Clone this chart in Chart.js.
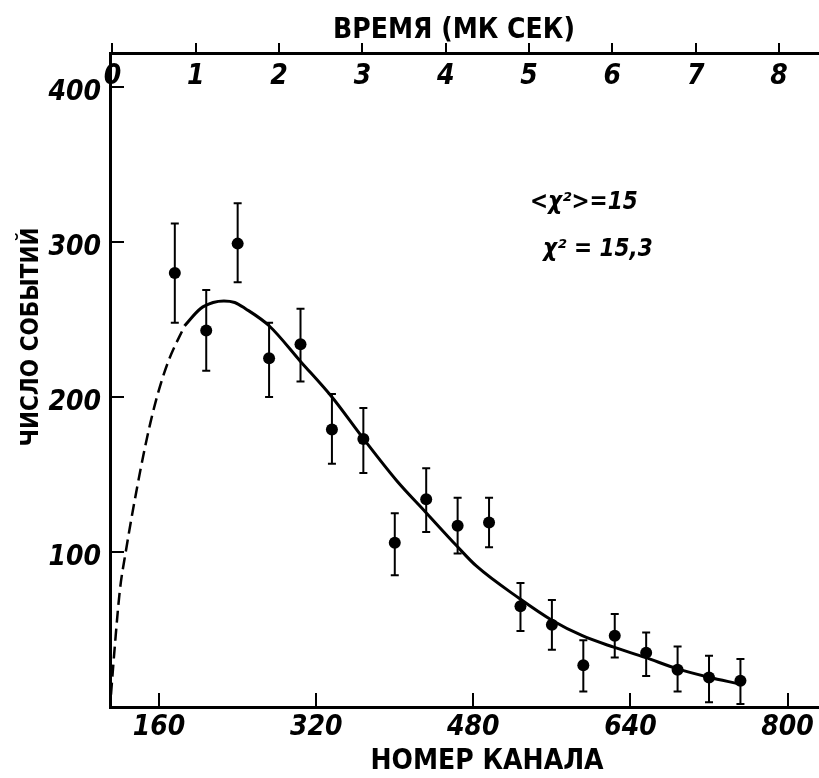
<!DOCTYPE html>
<html>
<head>
<meta charset="utf-8">
<script src="https://cdn.jsdelivr.net/npm/chart.js@4.4.1/dist/chart.umd.min.js"></script>
<style>
  html, body { margin: 0; padding: 0; background: #fff; }
  #wrap { width: 819px; height: 778px; }
</style>
</head>
<body>
<div id="wrap"><canvas id="myChart" width="819" height="778"></canvas></div>
<script>
// measured points (channel number, events) with error bar bounds
const channels = [176, 208, 240, 272, 304, 336, 368, 400, 432, 464, 496, 528, 560, 592, 624, 656, 688, 720, 752];
const counts   = [280, 243, 299, 225, 234, 179, 173, 106, 134, 117, 119, 65, 53, 27, 46, 35, 24, 19, 17];
const errLow   = [248, 217, 274, 200, 210, 157, 151, 85, 113, 99, 103, 49, 37, 10, 32, 20, 10, 3, 2];
const errHigh  = [312, 269, 325, 248, 257, 202, 193, 125, 154, 135, 135, 80, 69, 43, 60, 48, 39, 33, 31];

// fitted curve, dashed part (extrapolation) and solid part
const fitDashedX = [111, 115, 120, 126, 141, 151, 160, 170, 186];
const fitDashedY = [8, 40, 75, 100, 153, 183, 205, 224, 246];
const fitSolidX = [186, 202, 215, 226, 237, 248, 272, 304, 336, 367, 402, 431, 463, 483, 527, 560, 591, 623, 655, 688, 720, 750];
const fitSolidY = [246, 257, 261, 262, 261, 257, 246, 223, 200, 174, 146, 126, 104, 91, 70, 56, 46, 38.6, 32, 24.6, 19.2, 15];

// tick labels
const channelTicks = [160, 320, 480, 640, 800];
const timeTicks = [0, 1, 2, 3, 4, 5, 6, 7, 8];
const countTicks = [100, 200, 300, 400];

const FAMILY = '"DejaVu Sans Condensed", "Liberation Sans Narrow", sans-serif';
const tickFont = {family: FAMILY, size: 28, style: 'italic', weight: 'bold'};

const toXY = (xs, ys) => xs.map((x, i) => ({x: x, y: ys[i]}));

// keep the plot box fixed, no extra room for overhanging labels
const fixBox = (w, h) => s => {
    if (w) s.width = w;
    if (h) s.height = h;
    s.paddingLeft = s.paddingRight = s.paddingTop = s.paddingBottom = 0;
};

const errorBars = {
    id: 'errorBars',
    afterDatasetsDraw(chart) {
        const {ctx, scales: {x, y}} = chart;
        ctx.save();
        ctx.strokeStyle = '#000';
        ctx.lineWidth = 2;
        channels.forEach((c, i) => {
            const px = x.getPixelForValue(c);
            const top = y.getPixelForValue(errHigh[i]);
            const bot = y.getPixelForValue(errLow[i]);
            ctx.beginPath();
            ctx.moveTo(px, top); ctx.lineTo(px, bot);
            ctx.moveTo(px - 4, top); ctx.lineTo(px + 4, top);
            ctx.moveTo(px - 4, bot); ctx.lineTo(px + 4, bot);
            ctx.stroke();
        });
        ctx.restore();
    }
};

const texts = {
    id: 'texts',
    afterDraw(chart) {
        const ctx = chart.ctx;
        ctx.save();
        ctx.fillStyle = '#000';
        ctx.textAlign = 'center';
        ctx.textBaseline = 'middle';
        ctx.font = 'bold 28px ' + FAMILY;
        ctx.fillText('НОМЕР КАНАЛА', 487, 762);
        ctx.fillText('ВРЕМЯ (МК СЕК)', 454, 31);
        ctx.font = 'italic bold 24px ' + FAMILY;
        ctx.textAlign = 'left';
        ctx.fillText('<χ²>=15', 530, 203);
        ctx.fillText('χ² = 15,3', 543, 250);
        ctx.translate(32, 337);
        ctx.rotate(-Math.PI / 2);
        ctx.textAlign = 'center';
        ctx.font = 'bold 24px ' + FAMILY;
        ctx.fillText('ЧИСЛО СОБЫТИЙ', 0, 0);
        ctx.restore();
    }
};

const ctx = document.getElementById('myChart').getContext('2d');
const myChart = new Chart(ctx, {
    type: 'scatter',
    data: {
        datasets: [{
            label: 'data',
            data: toXY(channels, counts),
            pointRadius: 6,
            pointBackgroundColor: '#000',
            pointBorderWidth: 0,
            showLine: false
        },
        {
            label: 'fit',
            data: toXY(fitSolidX, fitSolidY),
            showLine: true,
            pointRadius: 0,
            borderColor: '#000',
            borderWidth: 3,
            cubicInterpolationMode: 'monotone'
        },
        {
            label: 'fit extrapolation',
            data: toXY(fitDashedX, fitDashedY),
            showLine: true,
            pointRadius: 0,
            borderColor: '#000',
            borderWidth: 2.5,
            borderDash: [12, 6],
            cubicInterpolationMode: 'monotone'
        }]
    },
    options: {
        responsive: false,
        animation: false,
        events: [],
        layout: {padding: 0, autoPadding: false},
        plugins: {
            legend: {display: false},
            tooltip: {enabled: false}
        },
        scales: {
            x: {
                type: 'linear',
                position: 'bottom',
                min: 110,
                max: 832,
                afterBuildTicks: s => { s.ticks = channelTicks.map(v => ({value: v})); },
                afterFit: fixBox(0, 71),
                border: {color: '#000', width: 3},
                grid: {drawOnChartArea: false, tickLength: -14, lineWidth: 2, color: '#000'},
                ticks: {color: '#000', padding: 18, maxRotation: 0, font: tickFont}
            },
            x2: {
                type: 'linear',
                position: 'top',
                min: -0.03,
                max: 8.48,
                afterBuildTicks: s => { s.ticks = timeTicks.map(v => ({value: v})); },
                afterFit: fixBox(0, 53),
                border: {color: '#000', width: 3},
                grid: {drawOnChartArea: false, tickLength: 10, lineWidth: 2, color: '#000'},
                // labels sit under the axis line, inside the plot
                ticks: {color: '#000', mirror: true, padding: 7, maxRotation: 0, font: tickFont}
            },
            y: {
                type: 'linear',
                min: 0,
                max: 422,
                afterBuildTicks: s => { s.ticks = countTicks.map(v => ({value: v})); },
                afterFit: fixBox(110, 0),
                border: {color: '#000', width: 3},
                grid: {drawOnChartArea: false, tickLength: -14, lineWidth: 2, color: '#000'},
                ticks: {color: '#000', padding: 23, labelOffset: 6, font: tickFont}
            }
        }
    },
    plugins: [errorBars, texts]
});
</script>
</body>
</html>
